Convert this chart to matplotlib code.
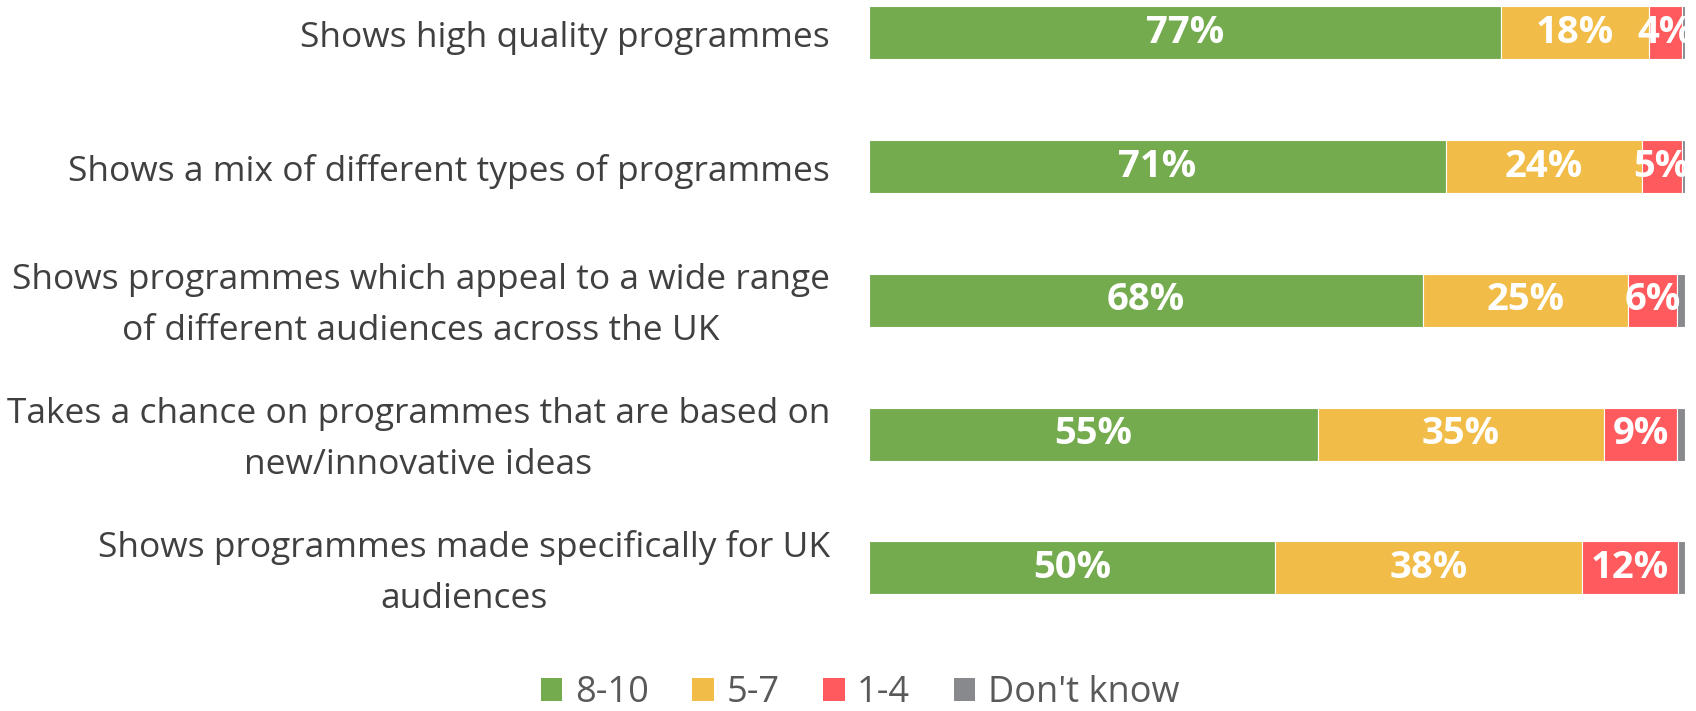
import matplotlib
matplotlib.use("Agg")
import matplotlib.pyplot as plt
import matplotlib.transforms as mtransforms
import numpy as np

plt.rcParams['font.family'] = ['Open Sans', 'DejaVu Sans']

categories = [
    "Shows high quality programmes",
    "Shows a mix of different types of programmes",
    "Shows programmes which appeal to a wide range\nof different audiences across the UK",
    "Takes a chance on programmes that are based on\nnew/innovative ideas",
    "Shows programmes made specifically for UK\naudiences",
]
series_names = ["8-10", "5-7", "1-4", "Don't know"]
score_8_10 = [77.4, 70.7, 67.9, 55.0, 49.8]
score_5_7 = [18.2, 24.0, 25.1, 35.1, 37.6]
score_1_4 = [4.0, 4.9, 6.0, 8.9, 11.7]
dont_know = [0.4, 0.4, 1.0, 1.0, 0.9]

colors = ["#74AB4F", "#F1BD48", "#FF5A5E", "#87898C"]

W, H = 1696, 711
fig = plt.figure(figsize=(W / 100, H / 100), dpi=100)

# axes spans the bar area; y-limits chosen so rows sit at the right heights
ax_left, ax_right = 869 / W, 1685 / W
ax_top_px, ax_bot_px = 0, 610
ax = fig.add_axes([ax_left, 1 - ax_bot_px / H, ax_right - ax_left, (ax_bot_px - ax_top_px) / H])

row0_px, row_step_px = 33.0, 133.7
ax.set_ylim((ax_bot_px - row0_px) / row_step_px, (ax_top_px - row0_px) / row_step_px)
ax.set_xlim(0, 100)

series = [score_8_10, score_5_7, score_1_4, dont_know]
data = np.array(series, dtype=float)
totals = data.sum(axis=0)
shares = data / totals * 100

y = np.arange(len(categories))
left = np.zeros(len(categories))
bar_h = 53 / row_step_px
for i, (name, vals) in enumerate(zip(series_names, shares)):
    ax.barh(y, vals, left=left, height=bar_h, color=colors[i], label=name,
            edgecolor="white", linewidth=0.8)
    if i < 3:
        for yi, (l, v, raw) in enumerate(zip(left, vals, series[i])):
            ax.text(l + v / 2, yi, f"{round(raw):d}%", ha="center", va="center",
                    color="white", fontsize=27.5, fontweight="bold")
    left += vals

ax.axis("off")

# category labels, right-aligned against the bars, lines centred
trans = mtransforms.blended_transform_factory(fig.transFigure, ax.transData)
label_shift = 5.0 / row_step_px
for yi, cat in enumerate(categories):
    ax.text(830 / W, yi + label_shift, cat, transform=trans, ha="right", va="center",
            multialignment="center", fontsize=25.5, color="#404040", linespacing=1.65)

handles, labels = ax.get_legend_handles_labels()
leg = fig.legend(handles, labels, loc="center", bbox_to_anchor=(860 / W, 1 - 693 / H),
                 ncol=4, frameon=False, fontsize=26, handlelength=0.6, handleheight=0.6,
                 handletextpad=0.35, columnspacing=1.2, labelcolor="#595959",
                 borderpad=0.1)
for h in leg.legend_handles:
    h.set_edgecolor("none")

fig.savefig("out.png", dpi=100)
